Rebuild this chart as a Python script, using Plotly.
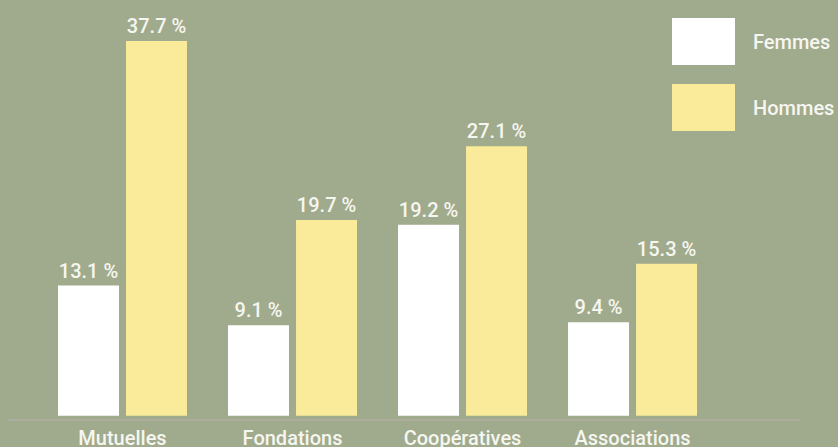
import plotly.graph_objects as go

# data
categories = ["Mutuelles", "Fondations", "Coopératives", "Associations"]
femmes = [13.1, 9.1, 19.2, 9.4]
hommes = [37.7, 19.7, 27.1, 15.3]
series_names = ["Femmes", "Hommes"]

bg = "#a0aa8c"
white = "#ffffff"
yellow = "#f9eb9a"
txt = dict(family="Roboto", size=20, color="#f6f6f0", weight=500)

fig = go.Figure()
for name, vals, col in [(series_names[0], femmes, white), (series_names[1], hommes, yellow)]:
    fig.add_trace(go.Bar(
        x=categories, y=vals, name=name, marker=dict(color=col, line=dict(width=0)),
        text=[f"{v} %" for v in vals], textposition="outside", cliponaxis=False,
        textfont=txt, showlegend=False,
    ))

# custom legend with big swatches (plot area: x 8..800, y 0..419)
for i, (name, col) in enumerate(zip(series_names, [white, yellow])):
    top = 18 + i * 66
    fig.add_shape(type="rect", xref="paper", yref="paper",
                  x0=(672 - 8) / 792, x1=(735 - 8) / 792,
                  y0=(419 - top - 47) / 419, y1=(419 - top) / 419,
                  fillcolor=col, line=dict(width=0))
    fig.add_annotation(xref="paper", yref="paper", x=(751 - 8) / 792,
                       y=(419 - top - 24) / 419, text=name, showarrow=False,
                       xanchor="left", yanchor="middle", font=txt)

fig.update_layout(
    width=838, height=447,
    margin=dict(l=8, r=38, t=0, b=28),
    paper_bgcolor=bg, plot_bgcolor=bg,
    barmode="group", bargap=0.2, bargroupgap=0.103,
    xaxis=dict(range=[-0.6735, 3.985], showgrid=False, zeroline=False,
               showline=True, linecolor="#aaac9e", linewidth=2,
               tickfont=txt, ticks="", fixedrange=True, automargin=False),
    yaxis=dict(range=[-0.33, 41.82], visible=False, fixedrange=True,
               automargin=False),
)

fig.write_html("out.html", config=dict(displayModeBar=False),
               post_script="document.body.style.margin='0';")
